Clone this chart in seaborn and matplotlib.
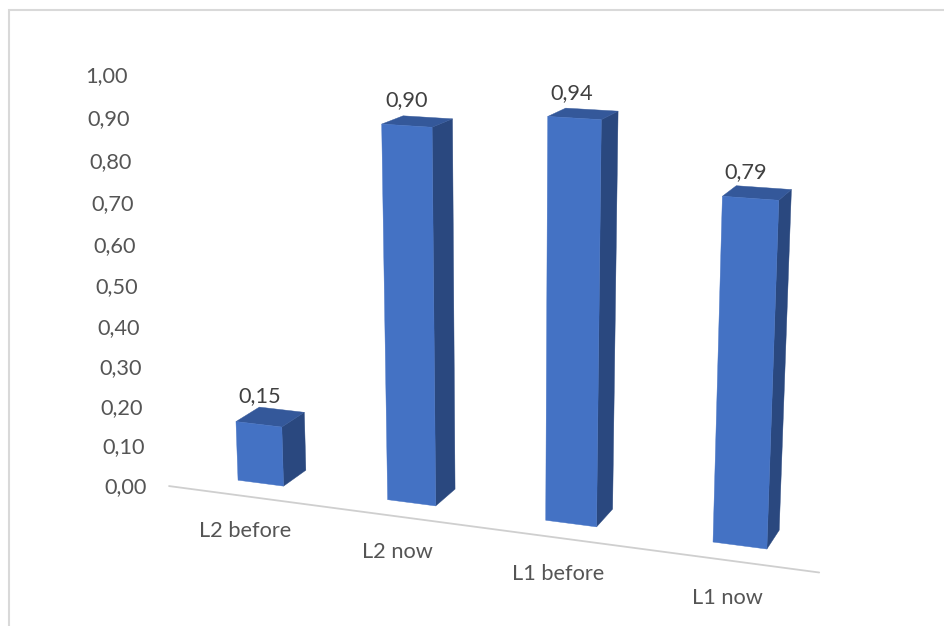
import numpy as np
import matplotlib
matplotlib.use("Agg")
import matplotlib.pyplot as plt
from matplotlib.patches import Polygon, Rectangle
from matplotlib.transforms import IdentityTransform, Transform
import seaborn as sns

# Chart data
categories = ["L2 before", "L2 now", "L1 before", "L1 now"]
values = [0.15, 0.90, 0.94, 0.79]
value_labels = ["0,15", "0,90", "0,94", "0,79"]
tick_values = [0.0, 0.1, 0.2, 0.3, 0.4, 0.5, 0.6, 0.7, 0.8, 0.9, 1.0]
tick_labels = ["0,00", "0,10", "0,20", "0,30", "0,40", "0,50",
               "0,60", "0,70", "0,80", "0,90", "1,00"]

# Colours for the three visible faces of each column
FRONT = "#4472C4"
SIDE = "#2A487F"
TOP = "#34589A"
TICK_TEXT = "#555555"
VALUE_TEXT = "#404040"
RULE = "#CFCFCF"
FRAME = "#D9D9D9"

BAR_WIDTH = 0.31
BAR_DEPTH = 1.0
FIG_W, FIG_H = 945, 626
FONT_SIZE = 15.7

# Pinhole camera: (category, value, depth) -> pixel position, y downwards
CAMERA = np.array([
    [139.76343788006918, -25.97741654113748, 29.23101851963237, 260.71075359351704],
    [6.0859014603934884, -414.17197224756023, -5.035090240032422, 483.1617469149057],
    [-0.026952225256585412, -0.051138599250057815, 0.023038849323279556, 1.0],
])


def project(x, y, z):
    h = CAMERA @ np.column_stack([x, y, z, np.ones_like(x)]).T
    return np.column_stack([h[0] / h[2], FIG_H - h[1] / h[2]])


class DepthPlane(Transform):
    """Maps axes data on a plane of constant depth to display pixels."""
    input_dims = 2
    output_dims = 2
    is_separable = False
    has_inverse = False

    def __init__(self, plane_depth=0.0):
        super().__init__()
        self.plane_depth = plane_depth

    def transform_non_affine(self, values):
        values = np.asarray(values, float).reshape(-1, 2)
        return project(values[:, 0], values[:, 1],
                       np.full(len(values), self.plane_depth))


sns.set_style("white")
plt.rcParams["font.family"] = ["Lato", "DejaVu Sans"]

fig = plt.figure(figsize=(FIG_W / 100, FIG_H / 100), dpi=100, facecolor="white")
ax = fig.add_axes([0, 0, 1, 1])

sns.barplot(x=categories, y=values, width=BAR_WIDTH, color=FRONT,
            saturation=1, ax=ax)
ax.axis("off")

# Outer chart frame, open on the right and at the bottom where it runs off the canvas
fig.add_artist(Rectangle((9, -20), FIG_W + 20, FIG_H + 20 - 10, fill=False,
                         edgecolor=FRAME, linewidth=1.5,
                         transform=IdentityTransform()))

front_plane = DepthPlane(0.0)
for i, bar in enumerate(list(ax.patches)):
    x0, x1 = bar.get_x(), bar.get_x() + bar.get_width()
    h = bar.get_height()

    # Side and top faces come from the same bar geometry pushed back in depth
    side = project(np.array([x1, x1, x1, x1]), np.array([0, h, h, 0]),
                   np.array([0, 0, BAR_DEPTH, BAR_DEPTH]))
    top = project(np.array([x0, x1, x1, x0]), np.array([h, h, h, h]),
                  np.array([0, 0, BAR_DEPTH, BAR_DEPTH]))
    for pts, colour in ((side, SIDE), (top, TOP)):
        ax.add_patch(Polygon(pts, closed=True, facecolor=colour, edgecolor=colour,
                             linewidth=0.3, transform=IdentityTransform(),
                             clip_on=False, zorder=2))

    bar.set_transform(front_plane)
    bar.set_clip_on(False)
    bar.set_edgecolor(FRONT)
    bar.set_linewidth(0.3)
    bar.set_zorder(3)

    # Value label sits above the centre of the top face
    cx, cy = project(np.array([(x0 + x1) / 2]), np.array([h]),
                     np.array([BAR_DEPTH / 2]))[0]
    ax.text(cx - 11, cy + 21, value_labels[i], ha="center", va="center",
            fontsize=FONT_SIZE, color=VALUE_TEXT, transform=IdentityTransform())

# Floor edge of the category axis
ax.plot([-0.5, 3.5], [0, 0], color=RULE, linewidth=1.3, clip_on=False,
        transform=DepthPlane(-0.77), scalex=False, scaley=False, zorder=1)

# Value axis labels follow the receding wall, pulled slightly in towards the floor
wall_plane = DepthPlane(-0.95)
for v, label in zip(tick_values, tick_labels):
    ax.text(-0.62, v * 0.995, label, ha="right", va="center", fontsize=FONT_SIZE,
            color=TICK_TEXT, transform=wall_plane)

# Category labels lie on the floor in front of the axis edge
floor_plane = DepthPlane(-2.42)
for i, label in enumerate(categories):
    ax.text(0.285 + 0.945 * i, 0, label, ha="center", va="center", fontsize=FONT_SIZE,
            color=TICK_TEXT, transform=floor_plane)

fig.savefig("out.png", dpi=100, facecolor="white")
